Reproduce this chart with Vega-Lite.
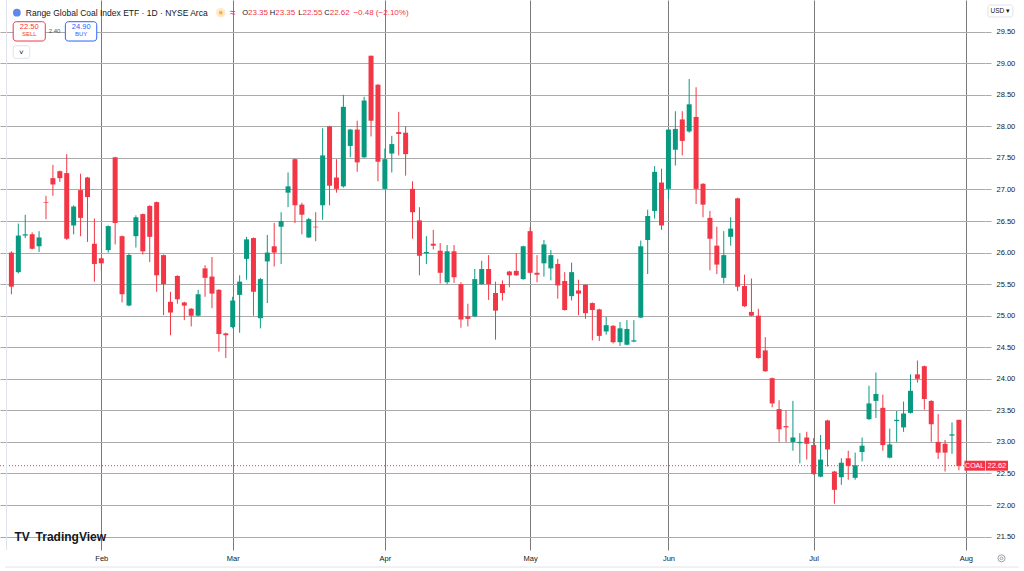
{
  "$schema": "https://vega.github.io/schema/vega-lite/v6.json",
  "width": 985,
  "height": 550,
  "autosize": "none",
  "padding": {"left": 0, "top": 0, "right": 39, "bottom": 21},
  "background": "white",
  "config": {
    "view": {"stroke": null},
    "font": "Liberation Sans",
    "text": {"font": "Liberation Sans"}
  },
  "resolve": {"axis": {"x": "independent", "y": "independent"}},
  "layer": [
    {
      "data": {
        "values": [
          {"i": 0, "o": 26.00, "h": 26.02, "l": 25.34, "c": 25.46},
          {"i": 1, "o": 25.69, "h": 26.46, "l": 25.67, "c": 26.27},
          {"i": 2, "o": 26.27, "h": 26.60, "l": 26.23, "c": 26.29},
          {"i": 3, "o": 26.29, "h": 26.32, "l": 26.05, "c": 26.06},
          {"i": 4, "o": 26.10, "h": 26.34, "l": 26.01, "c": 26.24},
          {"i": 5, "o": 26.80, "h": 26.90, "l": 26.53, "c": 26.79},
          {"i": 6, "o": 27.18, "h": 27.39, "l": 26.90, "c": 27.08},
          {"i": 7, "o": 27.29, "h": 27.30, "l": 27.12, "c": 27.18},
          {"i": 8, "o": 27.26, "h": 27.56, "l": 26.20, "c": 26.22},
          {"i": 9, "o": 26.43, "h": 26.75, "l": 26.29, "c": 26.73},
          {"i": 10, "o": 26.99, "h": 27.25, "l": 26.26, "c": 26.55},
          {"i": 11, "o": 27.19, "h": 27.20, "l": 26.17, "c": 26.88},
          {"i": 12, "o": 26.14, "h": 26.54, "l": 25.54, "c": 25.82},
          {"i": 13, "o": 25.91, "h": 25.92, "l": 25.72, "c": 25.83},
          {"i": 14, "o": 26.04, "h": 26.43, "l": 26.00, "c": 26.42},
          {"i": 15, "o": 27.51, "h": 27.52, "l": 26.13, "c": 26.47},
          {"i": 16, "o": 26.26, "h": 26.27, "l": 25.21, "c": 25.34},
          {"i": 17, "o": 25.16, "h": 25.99, "l": 25.15, "c": 25.96},
          {"i": 18, "o": 26.26, "h": 26.59, "l": 26.08, "c": 26.56},
          {"i": 19, "o": 26.61, "h": 26.62, "l": 25.97, "c": 26.02},
          {"i": 20, "o": 26.74, "h": 26.75, "l": 25.85, "c": 26.25},
          {"i": 21, "o": 26.80, "h": 26.81, "l": 25.38, "c": 25.64},
          {"i": 22, "o": 25.96, "h": 25.97, "l": 25.01, "c": 25.50},
          {"i": 23, "o": 25.22, "h": 25.38, "l": 24.69, "c": 25.05},
          {"i": 24, "o": 25.63, "h": 25.64, "l": 25.19, "c": 25.26},
          {"i": 25, "o": 25.21, "h": 25.22, "l": 24.93, "c": 25.16},
          {"i": 26, "o": 25.11, "h": 25.12, "l": 24.83, "c": 25.00},
          {"i": 27, "o": 25.00, "h": 25.41, "l": 24.99, "c": 25.34},
          {"i": 28, "o": 25.75, "h": 25.80, "l": 25.30, "c": 25.60},
          {"i": 29, "o": 25.62, "h": 25.93, "l": 25.12, "c": 25.35},
          {"i": 30, "o": 25.41, "h": 25.42, "l": 24.43, "c": 24.71},
          {"i": 31, "o": 24.72, "h": 24.73, "l": 24.33, "c": 24.69},
          {"i": 32, "o": 24.82, "h": 25.30, "l": 24.80, "c": 25.24},
          {"i": 33, "o": 25.33, "h": 25.64, "l": 24.73, "c": 25.54},
          {"i": 34, "o": 25.90, "h": 26.25, "l": 25.57, "c": 26.21},
          {"i": 35, "o": 26.23, "h": 26.24, "l": 25.00, "c": 25.38},
          {"i": 36, "o": 24.96, "h": 25.60, "l": 24.80, "c": 25.58},
          {"i": 37, "o": 25.86, "h": 26.28, "l": 25.20, "c": 26.00},
          {"i": 38, "o": 26.10, "h": 26.47, "l": 25.78, "c": 26.00},
          {"i": 39, "o": 26.41, "h": 26.64, "l": 25.82, "c": 26.50},
          {"i": 40, "o": 26.95, "h": 27.27, "l": 26.72, "c": 27.05},
          {"i": 41, "o": 27.48, "h": 27.49, "l": 26.47, "c": 26.75},
          {"i": 42, "o": 26.76, "h": 26.79, "l": 26.29, "c": 26.60},
          {"i": 43, "o": 26.24, "h": 26.55, "l": 26.23, "c": 26.53},
          {"i": 44, "o": 26.41, "h": 26.64, "l": 26.18, "c": 26.40},
          {"i": 45, "o": 26.75, "h": 27.97, "l": 26.52, "c": 27.54},
          {"i": 46, "o": 28.00, "h": 28.01, "l": 26.75, "c": 27.06},
          {"i": 47, "o": 27.19, "h": 27.48, "l": 26.95, "c": 27.01},
          {"i": 48, "o": 27.05, "h": 28.50, "l": 27.03, "c": 28.31},
          {"i": 49, "o": 27.69, "h": 27.96, "l": 27.51, "c": 27.95},
          {"i": 50, "o": 27.95, "h": 28.09, "l": 27.28, "c": 27.43},
          {"i": 51, "o": 27.51, "h": 28.47, "l": 27.50, "c": 28.41},
          {"i": 52, "o": 29.12, "h": 29.12, "l": 27.84, "c": 28.09},
          {"i": 53, "o": 28.66, "h": 28.67, "l": 27.13, "c": 27.44},
          {"i": 54, "o": 27.01, "h": 27.65, "l": 27.00, "c": 27.48},
          {"i": 55, "o": 27.57, "h": 27.85, "l": 27.27, "c": 27.72},
          {"i": 56, "o": 27.91, "h": 28.23, "l": 27.54, "c": 27.88},
          {"i": 57, "o": 27.90, "h": 28.00, "l": 27.22, "c": 27.56},
          {"i": 58, "o": 27.01, "h": 27.13, "l": 26.22, "c": 26.64},
          {"i": 59, "o": 26.51, "h": 26.72, "l": 25.64, "c": 25.95},
          {"i": 60, "o": 25.99, "h": 26.26, "l": 25.82, "c": 26.01},
          {"i": 61, "o": 26.14, "h": 26.36, "l": 26.05, "c": 26.11},
          {"i": 62, "o": 26.03, "h": 26.15, "l": 25.51, "c": 25.68},
          {"i": 63, "o": 25.53, "h": 26.12, "l": 25.50, "c": 26.02},
          {"i": 64, "o": 26.02, "h": 26.12, "l": 25.52, "c": 25.61},
          {"i": 65, "o": 25.50, "h": 25.53, "l": 24.81, "c": 24.94},
          {"i": 66, "o": 24.99, "h": 25.19, "l": 24.83, "c": 24.95},
          {"i": 67, "o": 24.99, "h": 25.74, "l": 24.98, "c": 25.58},
          {"i": 68, "o": 25.50, "h": 25.87, "l": 25.49, "c": 25.74},
          {"i": 69, "o": 25.74, "h": 25.96, "l": 25.25, "c": 25.50},
          {"i": 70, "o": 25.36, "h": 25.54, "l": 24.62, "c": 25.08},
          {"i": 71, "o": 25.50, "h": 25.56, "l": 25.24, "c": 25.36},
          {"i": 72, "o": 25.70, "h": 25.71, "l": 25.45, "c": 25.64},
          {"i": 73, "o": 25.71, "h": 25.99, "l": 25.63, "c": 25.64},
          {"i": 74, "o": 25.58, "h": 26.11, "l": 25.57, "c": 26.10},
          {"i": 75, "o": 26.34, "h": 26.40, "l": 25.67, "c": 25.68},
          {"i": 76, "o": 25.68, "h": 25.96, "l": 25.53, "c": 25.65},
          {"i": 77, "o": 25.83, "h": 26.20, "l": 25.62, "c": 26.13},
          {"i": 78, "o": 25.75, "h": 26.04, "l": 25.56, "c": 25.96},
          {"i": 79, "o": 25.82, "h": 25.90, "l": 25.27, "c": 25.48},
          {"i": 80, "o": 25.55, "h": 25.69, "l": 25.08, "c": 25.09},
          {"i": 81, "o": 25.31, "h": 25.84, "l": 25.24, "c": 25.69},
          {"i": 82, "o": 25.40, "h": 25.57, "l": 25.01, "c": 25.35},
          {"i": 83, "o": 25.49, "h": 25.50, "l": 24.95, "c": 25.04},
          {"i": 84, "o": 25.20, "h": 25.21, "l": 24.61, "c": 25.09},
          {"i": 85, "o": 25.10, "h": 25.11, "l": 24.60, "c": 24.68},
          {"i": 86, "o": 24.75, "h": 24.98, "l": 24.70, "c": 24.85},
          {"i": 87, "o": 24.84, "h": 24.85, "l": 24.56, "c": 24.58},
          {"i": 88, "o": 24.58, "h": 24.90, "l": 24.52, "c": 24.80},
          {"i": 89, "o": 24.54, "h": 24.93, "l": 24.53, "c": 24.79},
          {"i": 90, "o": 24.59, "h": 24.93, "l": 24.58, "c": 24.61},
          {"i": 91, "o": 24.97, "h": 26.19, "l": 24.96, "c": 26.10},
          {"i": 92, "o": 26.20, "h": 26.68, "l": 25.66, "c": 26.58},
          {"i": 93, "o": 26.66, "h": 27.37, "l": 26.54, "c": 27.28},
          {"i": 94, "o": 27.11, "h": 27.33, "l": 26.36, "c": 26.43},
          {"i": 95, "o": 27.01, "h": 27.96, "l": 26.85, "c": 27.95},
          {"i": 96, "o": 27.63, "h": 28.24, "l": 27.38, "c": 27.96},
          {"i": 97, "o": 28.11, "h": 28.24, "l": 27.54, "c": 27.77},
          {"i": 98, "o": 27.92, "h": 28.75, "l": 27.90, "c": 28.35},
          {"i": 99, "o": 28.15, "h": 28.62, "l": 26.77, "c": 27.01},
          {"i": 100, "o": 27.09, "h": 27.10, "l": 26.56, "c": 26.76},
          {"i": 101, "o": 26.55, "h": 26.66, "l": 25.72, "c": 26.22},
          {"i": 102, "o": 26.11, "h": 26.41, "l": 25.66, "c": 25.81},
          {"i": 103, "o": 25.60, "h": 26.34, "l": 25.51, "c": 25.96},
          {"i": 104, "o": 26.25, "h": 26.56, "l": 26.11, "c": 26.38},
          {"i": 105, "o": 26.86, "h": 26.87, "l": 25.39, "c": 25.46},
          {"i": 106, "o": 25.47, "h": 25.65, "l": 25.14, "c": 25.15},
          {"i": 107, "o": 25.06, "h": 25.59, "l": 24.99, "c": 25.00},
          {"i": 108, "o": 25.00, "h": 25.11, "l": 24.32, "c": 24.33},
          {"i": 109, "o": 24.45, "h": 24.66, "l": 24.11, "c": 24.12},
          {"i": 110, "o": 24.01, "h": 24.02, "l": 23.55, "c": 23.61},
          {"i": 111, "o": 23.52, "h": 23.66, "l": 23.00, "c": 23.20},
          {"i": 112, "o": 23.25, "h": 23.50, "l": 23.00, "c": 23.23},
          {"i": 113, "o": 23.00, "h": 23.65, "l": 22.86, "c": 23.07},
          {"i": 114, "o": 22.98, "h": 23.14, "l": 22.66, "c": 23.00},
          {"i": 115, "o": 23.07, "h": 23.16, "l": 22.72, "c": 22.97},
          {"i": 116, "o": 22.95, "h": 23.06, "l": 22.48, "c": 22.49},
          {"i": 117, "o": 22.45, "h": 23.11, "l": 22.44, "c": 22.72},
          {"i": 118, "o": 23.34, "h": 23.35, "l": 22.61, "c": 22.88},
          {"i": 119, "o": 22.53, "h": 22.54, "l": 22.02, "c": 22.24},
          {"i": 120, "o": 22.44, "h": 22.74, "l": 22.32, "c": 22.67},
          {"i": 121, "o": 22.74, "h": 22.86, "l": 22.40, "c": 22.62},
          {"i": 122, "o": 22.43, "h": 22.83, "l": 22.40, "c": 22.63},
          {"i": 123, "o": 22.84, "h": 23.07, "l": 22.69, "c": 22.94},
          {"i": 124, "o": 23.36, "h": 23.89, "l": 23.35, "c": 23.61},
          {"i": 125, "o": 23.65, "h": 24.10, "l": 23.38, "c": 23.76},
          {"i": 126, "o": 23.54, "h": 23.75, "l": 22.86, "c": 22.95},
          {"i": 127, "o": 22.75, "h": 23.21, "l": 22.74, "c": 22.96},
          {"i": 128, "o": 23.33, "h": 23.49, "l": 23.00, "c": 23.35},
          {"i": 129, "o": 23.23, "h": 23.64, "l": 23.16, "c": 23.45},
          {"i": 130, "o": 23.46, "h": 24.07, "l": 23.45, "c": 23.81},
          {"i": 131, "o": 24.07, "h": 24.29, "l": 23.94, "c": 24.00},
          {"i": 132, "o": 24.20, "h": 24.21, "l": 23.51, "c": 23.68},
          {"i": 133, "o": 23.65, "h": 23.66, "l": 23.00, "c": 23.28},
          {"i": 134, "o": 23.00, "h": 23.44, "l": 22.73, "c": 22.83},
          {"i": 135, "o": 22.97, "h": 23.03, "l": 22.53, "c": 22.83},
          {"i": 136, "o": 23.10, "h": 23.31, "l": 22.81, "c": 23.12},
          {"i": 137, "o": 23.35, "h": 23.35, "l": 22.55, "c": 22.62}
        ]
      },
      "encoding": {
        "x": {
          "field": "i",
          "type": "quantitative",
          "title": null,
          "scale": {"domain": [-0.926, 140.05], "nice": false, "zero": false},
          "axis": {
            "orient": "bottom",
            "values": [13, 32, 54, 75, 95, 116, 138],
            "labelExpr": "['Feb','Mar','Apr','May','Jun','Jul','Aug'][indexof([13,32,54,75,95,116,138], datum.value)]",
            "domain": false,
            "ticks": false,
            "labelPadding": 4,
            "labelFontSize": 7.5,
            "labelColor": "#131722",
            "labelFlush": false,
            "labelOverlap": false,
            "grid": true,
            "gridColor": "#7a7a7a",
            "gridWidth": 1
          }
        },
        "y": {
          "field": "l",
          "type": "quantitative",
          "title": null,
          "scale": {"domain": [21.287, 30.003], "nice": false, "zero": false},
          "axis": {
            "orient": "right",
            "values": [21.5, 22, 22.5, 23, 23.5, 24, 24.5, 25, 25.5, 26, 26.5, 27, 27.5, 28, 28.5, 29, 29.5],
            "format": ".2f",
            "domain": false,
            "tickSize": 6,
            "tickColor": "#aaaaaa",
            "labelPadding": 5,
            "labelFontSize": 7.5,
            "labelColor": "#131722",
            "labelOverlap": false,
            "labelFlush": false,
            "labelBound": false,
            "grid": true,
            "gridColor": "#aaaaaa",
            "gridWidth": 1.2
          }
        },
        "color": {
          "condition": {"test": "datum.c >= datum.o", "value": "#089981"},
          "value": "#f23645"
        }
      },
      "layer": [
        {
          "mark": {"type": "rule", "strokeWidth": 1},
          "encoding": {"y2": {"field": "h"}}
        },
        {
          "mark": {"type": "bar", "size": 5},
          "encoding": {
            "y": {"field": "o", "type": "quantitative", "title": null},
            "y2": {"field": "c"}
          }
        }
      ]
    },
    {
      "data": {"values": [{}]},
      "mark": {"type": "rule", "color": "#f23645", "strokeDash": [1, 2], "strokeWidth": 1},
      "encoding": {"y": {"datum": 22.623, "axis": null}}
    },
    {
      "data": {"values": [{}]},
      "mark": {"type": "rule", "color": "#e0e3eb", "strokeWidth": 1},
      "encoding": {"x": {"datum": -0.71, "axis": null}}
    },
    {
      "data": {"values": [{}]},
      "mark": {"type": "rule", "color": "#e0e3eb", "strokeWidth": 1},
      "encoding": {"y": {"datum": 21.017, "axis": null}, "x": {"datum": -0.926, "axis": null}, "x2": {"datum": 145.63}}
    },
    {
      "data": {"values": [{}]},
      "mark": {"type": "rect", "color": "#f23645"},
      "encoding": {"x": {"datum": 137.8, "axis": null}, "x2": {"datum": 140.77}, "y": {"datum": 22.702, "axis": null}, "y2": {"datum": 22.544}}
    },
    {
      "data": {"values": [{}]},
      "mark": {"type": "rect", "color": "#f23645"},
      "encoding": {"x": {"datum": 140.87, "axis": null}, "x2": {"datum": 144.1}, "y": {"datum": 22.702, "axis": null}, "y2": {"datum": 22.544}}
    },
    {
      "data": {"values": [{}]},
      "mark": {"type": "text", "text": "COAL", "color": "white", "fontSize": 7, "baseline": "middle", "align": "center"},
      "encoding": {"x": {"datum": 139.27, "axis": null}, "y": {"datum": 22.623, "axis": null}}
    },
    {
      "data": {"values": [{}]},
      "mark": {"type": "text", "text": "22.62", "color": "white", "fontSize": 7.5, "baseline": "middle", "align": "center"},
      "encoding": {"x": {"datum": 142.49, "axis": null}, "y": {"datum": 22.623, "axis": null}}
    },
    {
      "data": {"values": [{}]},
      "mark": {"type": "point", "shape": "circle", "filled": true, "color": "#1e53e5", "size": 60},
      "encoding": {"x": {"datum": 0.79, "axis": null}, "y": {"datum": 29.802, "axis": null}}
    },
    {
      "data": {"values": [{}]},
      "mark": {"type": "text", "text": "Range Global Coal Index ETF · 1D · NYSE Arca", "color": "#131722", "fontSize": 8.5, "baseline": "middle", "align": "left"},
      "encoding": {"x": {"datum": 2.08, "axis": null}, "y": {"datum": 29.802, "axis": null}}
    },
    {
      "data": {"values": [{}]},
      "mark": {"type": "point", "shape": "circle", "filled": true, "color": "#ffe0b2", "size": 90},
      "encoding": {"x": {"datum": 30.27, "axis": null}, "y": {"datum": 29.802, "axis": null}}
    },
    {
      "data": {"values": [{}]},
      "mark": {"type": "point", "shape": "circle", "filled": true, "color": "#ff9800", "size": 14},
      "encoding": {"x": {"datum": 30.27, "axis": null}, "y": {"datum": 29.802, "axis": null}}
    },
    {
      "data": {"values": [{}]},
      "mark": {"type": "text", "text": "≈", "color": "#e91e63", "fontSize": 10, "baseline": "middle", "align": "center"},
      "encoding": {"x": {"datum": 32.0, "axis": null}, "y": {"datum": 29.802, "axis": null}}
    },
    {
      "data": {"values": [{}]},
      "mark": {"type": "text", "text": "O", "color": "#131722", "fontSize": 7.5, "baseline": "middle", "align": "right"},
      "encoding": {"x": {"datum": 34.21, "axis": null}, "y": {"datum": 29.802, "axis": null}}
    },
    {
      "data": {"values": [{}]},
      "mark": {"type": "text", "text": "23.35", "color": "#f23645", "fontSize": 8, "baseline": "middle", "align": "left"},
      "encoding": {"x": {"datum": 34.21, "axis": null}, "y": {"datum": 29.802, "axis": null}}
    },
    {
      "data": {"values": [{}]},
      "mark": {"type": "text", "text": "H", "color": "#131722", "fontSize": 7.5, "baseline": "middle", "align": "right"},
      "encoding": {"x": {"datum": 38.15, "axis": null}, "y": {"datum": 29.802, "axis": null}}
    },
    {
      "data": {"values": [{}]},
      "mark": {"type": "text", "text": "23.35", "color": "#f23645", "fontSize": 8, "baseline": "middle", "align": "left"},
      "encoding": {"x": {"datum": 38.15, "axis": null}, "y": {"datum": 29.802, "axis": null}}
    },
    {
      "data": {"values": [{}]},
      "mark": {"type": "text", "text": "L", "color": "#131722", "fontSize": 7.5, "baseline": "middle", "align": "right"},
      "encoding": {"x": {"datum": 42.08, "axis": null}, "y": {"datum": 29.802, "axis": null}}
    },
    {
      "data": {"values": [{}]},
      "mark": {"type": "text", "text": "22.55", "color": "#f23645", "fontSize": 8, "baseline": "middle", "align": "left"},
      "encoding": {"x": {"datum": 42.08, "axis": null}, "y": {"datum": 29.802, "axis": null}}
    },
    {
      "data": {"values": [{}]},
      "mark": {"type": "text", "text": "C", "color": "#131722", "fontSize": 7.5, "baseline": "middle", "align": "right"},
      "encoding": {"x": {"datum": 46.02, "axis": null}, "y": {"datum": 29.802, "axis": null}}
    },
    {
      "data": {"values": [{}]},
      "mark": {"type": "text", "text": "22.62", "color": "#f23645", "fontSize": 8, "baseline": "middle", "align": "left"},
      "encoding": {"x": {"datum": 46.02, "axis": null}, "y": {"datum": 29.802, "axis": null}}
    },
    {
      "data": {"values": [{}]},
      "mark": {"type": "text", "text": "−0.48 (−2.10%)", "color": "#f23645", "fontSize": 8, "baseline": "middle", "align": "left"},
      "encoding": {"x": {"datum": 49.45, "axis": null}, "y": {"datum": 29.802, "axis": null}}
    },
    {
      "data": {"values": [{}]},
      "mark": {"type": "rect", "fill": "white", "stroke": "#f23645", "strokeWidth": 1, "cornerRadius": 3},
      "encoding": {"x": {"datum": 0.26, "axis": null}, "x2": {"datum": 4.9}, "y": {"datum": 29.659, "axis": null}, "y2": {"datum": 29.353}}
    },
    {
      "data": {"values": [{}]},
      "mark": {"type": "rect", "fill": "white", "stroke": "#2962ff", "strokeWidth": 1, "cornerRadius": 3},
      "encoding": {"x": {"datum": 7.8, "axis": null}, "x2": {"datum": 12.34}, "y": {"datum": 29.659, "axis": null}, "y2": {"datum": 29.353}}
    },
    {
      "data": {"values": [{}]},
      "mark": {"type": "text", "text": "22.50", "color": "#f23645", "fontSize": 7.5, "baseline": "middle", "align": "center"},
      "encoding": {"x": {"datum": 2.58, "axis": null}, "y": {"datum": 29.58, "axis": null}}
    },
    {
      "data": {"values": [{}]},
      "mark": {"type": "text", "text": "SELL", "color": "#f23645", "fontSize": 6, "baseline": "middle", "align": "center"},
      "encoding": {"x": {"datum": 2.58, "axis": null}, "y": {"datum": 29.46, "axis": null}}
    },
    {
      "data": {"values": [{}]},
      "mark": {"type": "text", "text": "24.90", "color": "#2962ff", "fontSize": 7.5, "baseline": "middle", "align": "center"},
      "encoding": {"x": {"datum": 10.09, "axis": null}, "y": {"datum": 29.58, "axis": null}}
    },
    {
      "data": {"values": [{}]},
      "mark": {"type": "text", "text": "BUY", "color": "#2962ff", "fontSize": 6, "baseline": "middle", "align": "center"},
      "encoding": {"x": {"datum": 10.09, "axis": null}, "y": {"datum": 29.46, "axis": null}}
    },
    {
      "data": {"values": [{}]},
      "mark": {"type": "text", "text": "2.40", "color": "#50535e", "fontSize": 6, "baseline": "middle", "align": "center"},
      "encoding": {"x": {"datum": 6.23, "axis": null}, "y": {"datum": 29.512, "axis": null}}
    },
    {
      "data": {"values": [{}]},
      "mark": {"type": "rect", "fill": "white", "stroke": "#e0e3eb", "strokeWidth": 1, "cornerRadius": 2},
      "encoding": {"x": {"datum": 0.26, "axis": null}, "x2": {"datum": 2.65}, "y": {"datum": 29.279, "axis": null}, "y2": {"datum": 29.079}}
    },
    {
      "data": {"values": [{}]},
      "mark": {"type": "text", "text": "˅", "color": "#131722", "fontSize": 8, "baseline": "middle", "align": "center"},
      "encoding": {"x": {"datum": 1.45, "axis": null}, "y": {"datum": 29.17, "axis": null}}
    },
    {
      "data": {"values": [{}]},
      "mark": {"type": "rect", "fill": "white", "stroke": "#e0e3eb", "strokeWidth": 1, "cornerRadius": 2},
      "encoding": {"x": {"datum": 141.2, "axis": null}, "x2": {"datum": 144.8}, "y": {"datum": 29.924, "axis": null}, "y2": {"datum": 29.734}}
    },
    {
      "data": {"values": [{}]},
      "mark": {"type": "text", "text": "USD ▾", "color": "#131722", "fontSize": 6.5, "baseline": "middle", "align": "center"},
      "encoding": {"x": {"datum": 142.98, "axis": null}, "y": {"datum": 29.829, "axis": null}}
    },
    {
      "data": {"values": [{}]},
      "mark": {"type": "text", "text": "TV", "color": "#131722", "fontSize": 12, "fontWeight": 900, "baseline": "middle", "align": "left"},
      "encoding": {"x": {"datum": 0.45, "axis": null}, "y": {"datum": 21.493, "axis": null}}
    },
    {
      "data": {"values": [{}]},
      "mark": {"type": "text", "text": "TradingView", "color": "#131722", "fontSize": 12, "fontWeight": 600, "baseline": "middle", "align": "left"},
      "encoding": {"x": {"datum": 3.5, "axis": null}, "y": {"datum": 21.493, "axis": null}}
    },
    {
      "data": {"values": [{}]},
      "mark": {"type": "point", "shape": "circle", "filled": false, "color": "#787b86", "size": 50, "strokeWidth": 1},
      "encoding": {"x": {"datum": 143.16, "axis": null}, "y": {"datum": 21.155, "axis": null}}
    },
    {
      "data": {"values": [{}]},
      "mark": {"type": "point", "shape": "circle", "filled": false, "color": "#787b86", "size": 8, "strokeWidth": 1},
      "encoding": {"x": {"datum": 143.16, "axis": null}, "y": {"datum": 21.155, "axis": null}}
    }
  ]
}
